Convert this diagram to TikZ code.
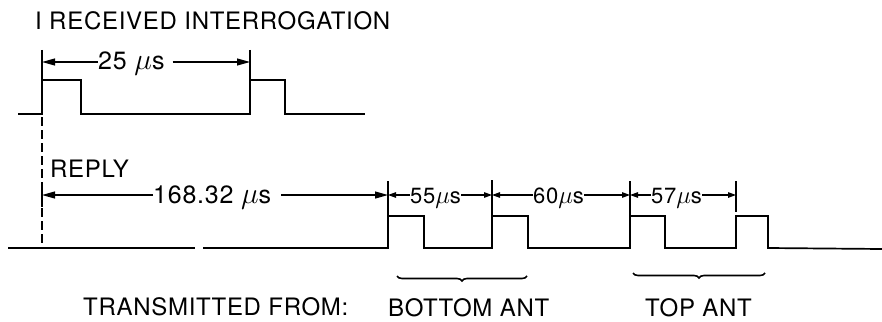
\documentclass[tikz,border=0pt]{standalone}
\usepackage{fontspec}
\setmainfont{TeX Gyre Heros}[LetterSpace=3]
\usetikzlibrary{arrows.meta,decorations.pathreplacing}
\newcommand{\bigmu}{\scalebox{1.2}{$\mu$}}
\begin{document}
\begin{tikzpicture}[x=1pt,y=-1pt,
  lbl/.style={font=\fontsize{24}{24}\selectfont, inner sep=0pt, anchor=base west},
  dlbl/.style={font=\fontsize{25}{25}\selectfont, inner sep=0pt, anchor=base west},
  sdlbl/.style={font=\fontsize{22}{22}\selectfont, inner sep=0pt, anchor=base west},
  wave/.style={line width=1.7pt, line join=miter},
  tick/.style={line width=1.4pt},
  dim/.style={line width=1.2pt, -{Triangle[length=13pt,width=7pt]}},
  sdim/.style={line width=1.2pt, -{Triangle[length=8pt,width=5.5pt]}},
  brc/.style={line width=1.6pt, decorate, decoration={brace, amplitude=5pt}}]
\useasboundingbox (0,0) rectangle (882,321);
\fill[white] (0,0) rectangle (882,321);
% titles
\node[lbl] (title) at (35,30) {I RECEIVED INTERROGATION};
\node[lbl] (reply) at (50,177) {REPLY};
\node[lbl] (tx) at (83,315) {TRANSMITTED FROM:};
\node[lbl] (bot) at (388,316) {BOTTOM ANT};
\node[lbl] (top) at (645,316) {TOP ANT};
% waveforms
\draw[wave] (18,114) -- (42,114) -- (42,80) -- (81,80) -- (81,114) -- (250,114) -- (250,80) -- (285,80) -- (285,114) -- (365,114);
\draw[wave] (8,248) -- (195,248);
\draw[wave] (203,248) -- (388,248) -- (388,216) -- (424,216) -- (424,248) -- (492,248) -- (492,216) -- (528,216) -- (528,248) -- (630,248) -- (630,216) -- (665,216) -- (665,248) -- (736,248) -- (736,216) -- (768,216) -- (768,248) -- (882,249);
% dashed reference line
\draw[line width=1.2pt, dash pattern=on 9pt off 4pt] (42,117) -- (42,248);
% ticks
\draw[tick] (42,50) -- (42,80);
\draw[tick] (250,50) -- (250,80);
\draw[tick] (42,183) -- (42,207);
\draw[tick] (388,181) -- (388,216);
\draw[tick] (492,180) -- (492,216);
\draw[tick] (630,181) -- (630,216);
\draw[tick] (736,181) -- (736,212);
% dimension labels
\node[dlbl] (t25) at (98,69) {25 \bigmu s};
\node[dlbl] (t168) at (153,203) {168.32 \bigmu s};
\node[sdlbl] (t55) at (410,203) {55\bigmu s};
\node[sdlbl] (t60) at (533,203) {60\bigmu s};
\node[sdlbl] (t57) at (651,203) {57\bigmu s};
% dimension ends
\coordinate (a1) at (42,62);
\coordinate (a2) at (250,62);
\coordinate (b1) at (42,195);
\coordinate (b2) at (388,195);
\coordinate (b3) at (492,195);
\coordinate (b4) at (630,195);
\coordinate (b5) at (736,195);
\draw[dim] (t25.west |- a1) -- (a1);
\draw[dim] ([xshift=8pt]t25.east |- a2) -- (a2);
\draw[dim] (t168.west |- b1) -- (b1);
\draw[dim] ([xshift=10pt]t168.east |- b2) -- (b2);
\draw[sdim] (t55.west |- b2) -- (b2);
\draw[sdim] (t55.east |- b3) -- (b3);
\draw[sdim] (t60.west |- b3) -- (b3);
\draw[sdim] (t60.east |- b4) -- (b4);
\draw[sdim] (t57.west |- b4) -- (b4);
\draw[sdim] (t57.east |- b5) -- (b5);
% braces
\coordinate (br1a) at (527,276);
\coordinate (br1b) at (397,276);
\coordinate (br2a) at (765,273);
\coordinate (br2b) at (633,273);
\draw[brc] (br1a) -- (br1b);
\draw[brc] (br2a) -- (br2b);
\end{tikzpicture}
\end{document}
